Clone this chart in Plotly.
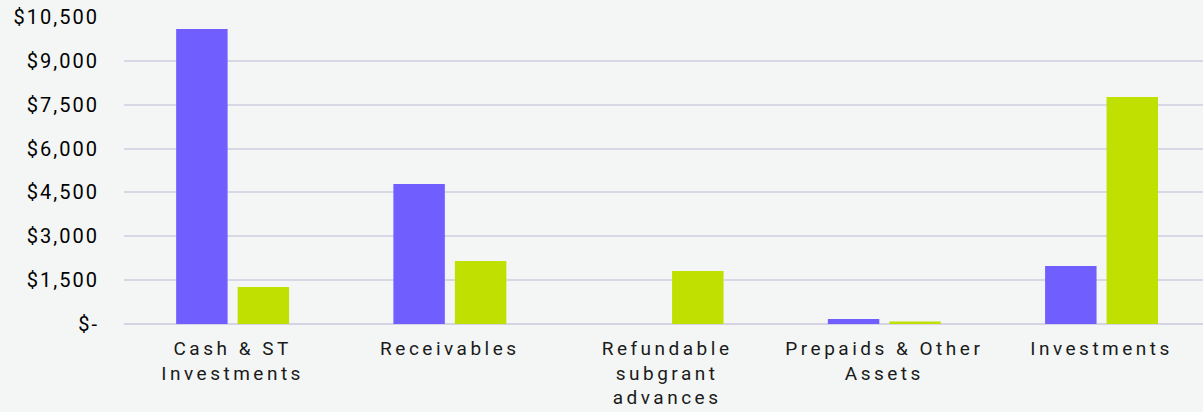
import plotly.graph_objects as go

categories = ["Cash & ST<br>Investments", "Receivables", "Refundable<br>subgrant<br>advances",
              "Prepaids & Other<br>Assets", "Investments"]
series_a = [10090, 4790, 0, 170, 1985]
series_b = [1265, 2155, 1815, 85, 7765]
y_tickvals = [0, 1500, 3000, 4500, 6000, 7500, 9000, 10500]
y_ticktext = ["$-", "$1,500", "$3,000", "$4,500", "$6,000", "$7,500", "$9,000", "$10,500"]


def spaced(label, px):
    return "<br>".join(f'<span style="letter-spacing:{px}px">{part}</span>'
                       for part in label.split("<br>"))


fig = go.Figure()
fig.add_trace(go.Bar(x=list(range(len(categories))), y=series_a, name="Series A",
                     marker=dict(color="#705eff", line=dict(width=0))))
fig.add_trace(go.Bar(x=list(range(len(categories))), y=series_b, name="Series B",
                     marker=dict(color="#bfe000", line=dict(width=0))))

fig.update_layout(
    width=1203, height=412,
    margin=dict(l=124, r=0, t=17, b=88),
    paper_bgcolor="#f3f6f5", plot_bgcolor="#f3f6f5",
    barmode="group", bargap=0.434, bargroupgap=0.163,
    showlegend=False,
    font=dict(family="Roboto", color="#111111", size=20),
)
fig.update_xaxes(
    tickmode="array", tickvals=list(range(len(categories))),
    ticktext=[spaced(c, 3.5) for c in categories],
    range=[-0.5, 4.467], showgrid=False, showline=False, zeroline=False,
    tickfont=dict(size=19, color="#1a1a1a", family="Roboto"),
    ticks="", ticklabelstandoff=11, automargin=False,
)
fig.update_yaxes(
    range=[0, 10500], tickmode="array", tickvals=y_tickvals,
    ticktext=[spaced(t, 2) for t in y_ticktext],
    showgrid=True, gridcolor="#d9d7e6", gridwidth=2,
    zeroline=True, zerolinecolor="#d6d3e4", zerolinewidth=2,
    showline=False, ticks="", ticklabelstandoff=24, automargin=False,
    tickfont=dict(size=20, color="#000000", family="Roboto"),
)

fig.write_html(
    "out.html",
    config={"displayModeBar": False},
    post_script="document.body.style.margin='0';document.body.style.background='#f3f6f5';",
)
